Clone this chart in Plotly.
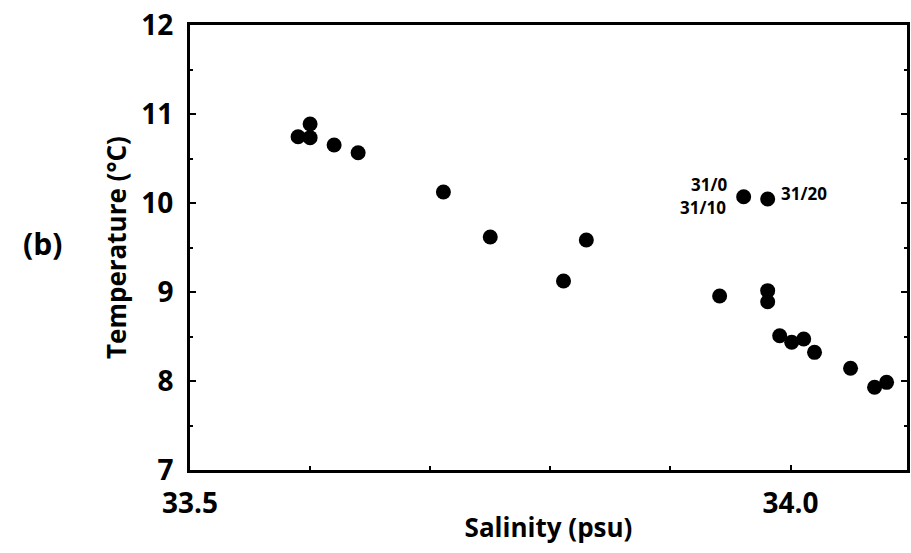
import plotly.graph_objects as go

salinity = [33.590, 33.600, 33.600, 33.620, 33.640, 33.711, 33.750, 33.811, 33.830,
            33.941, 33.961, 33.981, 33.981, 33.981, 33.991, 34.001, 34.011, 34.020,
            34.050, 34.070, 34.080]
temperature = [10.745, 10.888, 10.734, 10.652, 10.565, 10.124, 9.618, 9.124, 9.584,
               8.955, 10.071, 10.045, 9.015, 8.891, 8.509, 8.435, 8.472, 8.322,
               8.143, 7.930, 7.985]

label_texts = ["31/0", "31/10", "31/20"]
label_x = [33.961, 33.961, 33.981]
label_y = [10.071, 10.071, 10.045]
label_anchor = ["right", "right", "left"]
label_dx = [-15, -16, 11]
label_dy = [12, -11, 6]

x_tickvals = [33.5, 34.0]
x_ticktext = ["33.5", "34.0"]
y_tickvals = [7, 8, 9, 10, 11, 12]
y_ticktext = ["7", "8", "9", "10", "11", "12"]

FONT = "Open Sans"

fig = go.Figure()
fig.add_trace(go.Scatter(
    x=salinity, y=temperature, mode="markers",
    marker=dict(size=15, color="black", line=dict(width=0)),
    showlegend=False, hoverinfo="x+y"))

for t, xx, yy, a, dx, dy in zip(label_texts, label_x, label_y, label_anchor, label_dx, label_dy):
    fig.add_annotation(x=xx, y=yy, text=t, showarrow=False, xanchor=a, yanchor="middle",
                       xshift=dx, yshift=dy,
                       font=dict(family=FONT, size=17, color="black", weight="bold"))

fig.add_annotation(x=-0.2056, y=0.508, xref="paper", yref="paper", text="(b)",
                   showarrow=False, xanchor="center", yanchor="middle",
                   font=dict(family=FONT, size=30, color="black", weight="bold"))

fig.update_layout(
    width=911, height=553,
    margin=dict(l=190, r=1, t=25, b=83),
    paper_bgcolor="white", plot_bgcolor="white",
    font=dict(family=FONT, color="black", weight="bold"),
    xaxis=dict(
        range=[33.5, 34.097], showgrid=False, zeroline=False,
        showline=True, linecolor="black", linewidth=3, mirror=True,
        tickmode="array", tickvals=x_tickvals, ticktext=x_ticktext,
        ticks="inside", ticklen=5, tickwidth=2, tickcolor="black",
        ticklabelstandoff=6,
        tickfont=dict(family=FONT, size=28, weight="bold"),
        minor=dict(dtick=0.1, tick0=33.5, ticks="inside", ticklen=4, tickwidth=2, tickcolor="black"),
        title=dict(text="Salinity (psu)", font=dict(family=FONT, size=26, weight="bold"), standoff=0),
    ),
    yaxis=dict(
        range=[7, 12], showgrid=False, zeroline=False,
        showline=True, linecolor="black", linewidth=3, mirror="ticks",
        tickmode="array", tickvals=y_tickvals, ticktext=y_ticktext,
        ticks="inside", ticklen=6, tickwidth=2, tickcolor="black",
        ticklabelstandoff=8,
        tickfont=dict(family=FONT, size=28, weight="bold"),
        minor=dict(dtick=0.5, tick0=7, ticks="inside", ticklen=3, tickwidth=2, tickcolor="black"),
        title=dict(text="Temperature (°C)", font=dict(family=FONT, size=26, weight="bold"), standoff=8),
    ),
)

fig.write_html("out.html")
